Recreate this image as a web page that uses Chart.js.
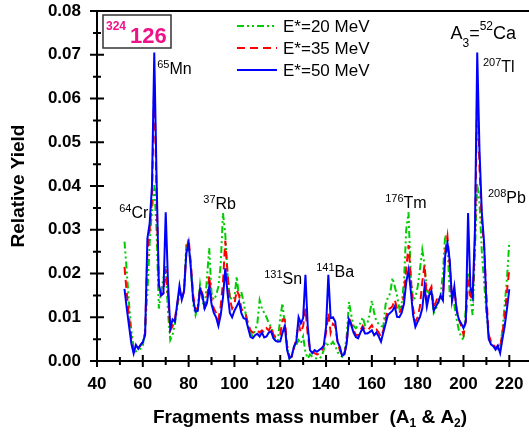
<!DOCTYPE html>
<html>
<head>
<meta charset="utf-8">
<script src="https://cdn.jsdelivr.net/npm/chart.js@4.4.1/dist/chart.umd.min.js"></script>
<style>
  html, body { margin: 0; padding: 0; background: #fff; overflow: hidden; }
</style>
</head>
<body>
<canvas id="chart" width="529" height="434"></canvas>
<script>
// Fragment mass numbers A = 52 ... 220
const masses = Array.from({ length: 169 }, (_, i) => 52 + i);

// Relative yield, E* = 50 MeV
const yield50 = [
  0.0165, 0.012, 0.008, 0.004, 0.0017, 0.0037, 0.0028, 0.0037, 0.0043, 0.006,
  0.028, 0.0315, 0.040, 0.0705, 0.042, 0.0175, 0.015, 0.0155, 0.034, 0.018,
  0.0075, 0.0095, 0.009, 0.013, 0.0172, 0.014, 0.016, 0.0246, 0.027, 0.021,
  0.014, 0.0113, 0.0115, 0.0165, 0.015, 0.012, 0.0132, 0.017, 0.013, 0.011,
  0.010, 0.008, 0.0105, 0.0145, 0.0212, 0.0155, 0.011, 0.010, 0.0115, 0.0125,
  0.0136, 0.011, 0.0098, 0.0096, 0.0075, 0.0055, 0.0052, 0.0059, 0.0062, 0.0056,
  0.0065, 0.0054, 0.0056, 0.0065, 0.0068, 0.0052, 0.0046, 0.0044, 0.0045, 0.0065,
  0.008, 0.0025, 0.0006, 0.0011, 0.0033, 0.0044, 0.010, 0.0086, 0.0098, 0.0197,
  0.008, 0.0025, 0.0018, 0.0025, 0.0021, 0.0025, 0.0029, 0.0035, 0.0078, 0.0197,
  0.0098, 0.010, 0.009, 0.0044, 0.0033, 0.0012, 0.0015, 0.004, 0.0095, 0.0082,
  0.0065, 0.0055, 0.0052, 0.0065, 0.0075, 0.0063, 0.0063, 0.0066, 0.007, 0.0059,
  0.0065, 0.0056, 0.0044, 0.0065, 0.0085, 0.0105, 0.011, 0.0115, 0.0125, 0.0101,
  0.010, 0.011, 0.013, 0.018, 0.0208, 0.016, 0.0105, 0.0078, 0.009, 0.0101,
  0.012, 0.017, 0.0124, 0.015, 0.016, 0.0115, 0.0125, 0.0135, 0.015, 0.0139,
  0.024, 0.027, 0.023, 0.0138, 0.017, 0.0115, 0.0095, 0.0086, 0.0075, 0.009,
  0.0338, 0.017, 0.0147, 0.030, 0.0705, 0.048, 0.034, 0.027, 0.013, 0.005,
  0.0038, 0.0034, 0.0026, 0.0035, 0.0018, 0.005, 0.008, 0.012, 0.0164
];

// Relative yield, E* = 35 MeV
const yield35 = [
  0.0215, 0.0155, 0.010, 0.005, 0.0025, 0.0035, 0.003, 0.0035, 0.0045, 0.006,
  0.025, 0.030, 0.037, 0.064, 0.038, 0.017, 0.015, 0.0155, 0.021, 0.015,
  0.007, 0.008, 0.0095, 0.013, 0.016, 0.014, 0.016, 0.025, 0.028, 0.022,
  0.015, 0.012, 0.012, 0.0166, 0.0155, 0.0125, 0.014, 0.0195, 0.014, 0.012,
  0.011, 0.0095, 0.0125, 0.018, 0.0275, 0.020, 0.014, 0.012, 0.013, 0.0162,
  0.015, 0.012, 0.011, 0.0105, 0.0085, 0.007, 0.0065, 0.0065, 0.007, 0.0065,
  0.007, 0.0065, 0.0075, 0.007, 0.008, 0.006, 0.0055, 0.0055, 0.006, 0.0095,
  0.0095, 0.0035, 0.001, 0.001, 0.003, 0.005, 0.0085, 0.0065, 0.008, 0.012,
  0.006, 0.0025, 0.002, 0.0018, 0.0015, 0.0016, 0.0022, 0.0035, 0.0065, 0.011,
  0.0065, 0.0085, 0.008, 0.0045, 0.0025, 0.0012, 0.0015, 0.0042, 0.010, 0.0085,
  0.007, 0.006, 0.0058, 0.007, 0.008, 0.007, 0.007, 0.0075, 0.0082, 0.007,
  0.0072, 0.0065, 0.0055, 0.007, 0.0095, 0.012, 0.012, 0.0125, 0.014, 0.012,
  0.011, 0.012, 0.015, 0.021, 0.0265, 0.019, 0.012, 0.009, 0.010, 0.0125,
  0.018, 0.022, 0.014, 0.016, 0.017, 0.0125, 0.0135, 0.015, 0.0145, 0.014,
  0.025, 0.0285, 0.022, 0.014, 0.016, 0.012, 0.0095, 0.008, 0.006, 0.009,
  0.018, 0.015, 0.014, 0.027, 0.0625, 0.044, 0.032, 0.026, 0.015, 0.006,
  0.0045, 0.0038, 0.003, 0.0035, 0.003, 0.0065, 0.010, 0.016, 0.021
];

// Relative yield, E* = 20 MeV
const yield20 = [
  0.0273, 0.0205, 0.013, 0.007, 0.003, 0.0022, 0.0025, 0.0028, 0.0035, 0.0075,
  0.0155, 0.027, 0.0345, 0.0402, 0.030, 0.012, 0.016, 0.019, 0.022, 0.011,
  0.0048, 0.006, 0.0085, 0.012, 0.0155, 0.015, 0.016, 0.0269, 0.026, 0.0219,
  0.013, 0.0105, 0.0125, 0.0175, 0.014, 0.0116, 0.019, 0.0258, 0.0155, 0.014,
  0.015, 0.017, 0.022, 0.0338, 0.029, 0.0195, 0.0147, 0.0139, 0.0145, 0.0193,
  0.0145, 0.0158, 0.0135, 0.0105, 0.008, 0.0065, 0.0056, 0.007, 0.0086, 0.0139,
  0.012, 0.011, 0.010, 0.0086, 0.0078, 0.006, 0.0044, 0.0048, 0.010, 0.0132,
  0.0078, 0.0033, 0.0006, 0.001, 0.0033, 0.0037, 0.0048, 0.004, 0.0056, 0.002,
  0.0006, 0.0015, 0.001, 0.0008, 0.0005, 0.0006, 0.001, 0.0025, 0.0044, 0.0035,
  0.0037, 0.0044, 0.0035, 0.002, 0.0014, 0.001, 0.002, 0.0056, 0.0135, 0.0105,
  0.008, 0.0075, 0.0082, 0.0086, 0.010, 0.0082, 0.0086, 0.0105, 0.0138, 0.011,
  0.009, 0.0085, 0.008, 0.0078, 0.013, 0.0145, 0.0155, 0.019, 0.017, 0.015,
  0.012, 0.013, 0.018, 0.030, 0.034, 0.019, 0.014, 0.0145, 0.017, 0.021,
  0.0254, 0.022, 0.016, 0.0155, 0.016, 0.011, 0.012, 0.0132, 0.015, 0.020,
  0.0288, 0.027, 0.015, 0.014, 0.0128, 0.0095, 0.007, 0.0055, 0.0048, 0.012,
  0.020, 0.0145, 0.0105, 0.025, 0.0405, 0.036, 0.025, 0.018, 0.011, 0.0056,
  0.0044, 0.0035, 0.0032, 0.0027, 0.0035, 0.007, 0.013, 0.019, 0.0273
];

// Axis ticks
const xTicks = [40, 60, 80, 100, 120, 140, 160, 180, 200, 220];
const xMinor = [50, 70, 90, 110, 130, 150, 170, 190, 210];
const yTicks = [0, 0.01, 0.02, 0.03, 0.04, 0.05, 0.06, 0.07, 0.08];
const yMinor = [0.005, 0.015, 0.025, 0.035, 0.045, 0.055, 0.065, 0.075];

// Peak labels: superscript mass, element, anchor in data units
const peakLabels = [
  { sup: "65", el: "Mn", x: 66.3, y: 0.0656 },
  { sup: "64", el: "Cr", x: 49.7, y: 0.0328 },
  { sup: "37", el: "Rb", x: 86.4, y: 0.0347 },
  { sup: "131", el: "Sn", x: 113, y: 0.0176 },
  { sup: "141", el: "Ba", x: 135.7, y: 0.0193 },
  { sup: "176", el: "Tm", x: 165.8, y: 0.035 },
  { sup: "208", el: "Pb", x: 210.7, y: 0.0361 },
  { sup: "207", el: "Tl", x: 208.5, y: 0.066 }
];

const FONT = 'Arial, "Liberation Sans", sans-serif';

function richText(ctx, x, y, parts) {
  ctx.textAlign = "left";
  ctx.textBaseline = "alphabetic";
  parts.forEach(([t, size, weight, dy, color]) => {
    ctx.font = `${weight} ${size}px ${FONT}`;
    ctx.fillStyle = color || "#000";
    ctx.fillText(t, x, y + dy);
    x += ctx.measureText(t).width;
  });
}

function richWidth(ctx, parts) {
  let w = 0;
  parts.forEach(([t, size, weight]) => {
    ctx.font = `${weight} ${size}px ${FONT}`;
    w += ctx.measureText(t).width;
  });
  return w;
}

const decorations = {
  id: "decorations",
  afterDatasetsDraw(chart) {
    const { ctx, chartArea: a, scales: { x, y } } = chart;
    ctx.save();

    // frame and axes
    ctx.strokeStyle = "#000";
    ctx.lineWidth = 2;
    ctx.beginPath();
    ctx.moveTo(a.left, a.top);
    ctx.lineTo(a.right + 2, a.top);
    ctx.moveTo(a.left, a.top - 1);
    ctx.lineTo(a.left, a.bottom);
    ctx.lineTo(a.right + 2, a.bottom);
    ctx.stroke();

    // ticks crossing the axes
    ctx.beginPath();
    xTicks.forEach(v => { const p = x.getPixelForValue(v); ctx.moveTo(p, a.bottom - 6); ctx.lineTo(p, a.bottom + 6); });
    xMinor.forEach(v => { const p = x.getPixelForValue(v); ctx.moveTo(p, a.bottom - 4); ctx.lineTo(p, a.bottom + 4); });
    yTicks.forEach(v => { const p = y.getPixelForValue(v); ctx.moveTo(a.left - 7, p); ctx.lineTo(a.left + 7, p); });
    yMinor.forEach(v => { const p = y.getPixelForValue(v); ctx.moveTo(a.left - 4, p); ctx.lineTo(a.left + 4, p); });
    ctx.stroke();

    // peak labels
    peakLabels.forEach(l => {
      richText(ctx, x.getPixelForValue(l.x), y.getPixelForValue(l.y), [
        [l.sup, 11, "normal", -6],
        [l.el, 16, "normal", 0]
      ]);
    });

    // nucleus box
    const bx = a.left + 6, by = a.top + 4;
    ctx.fillStyle = "#fff";
    ctx.fillRect(bx, by, 68, 33);
    ctx.strokeStyle = "#333";
    ctx.lineWidth = 1.5;
    ctx.strokeRect(bx, by, 68, 33);
    richText(ctx, bx + 3, by + 14.5, [["324", 12, "bold", 0, "#ee1289"]]);
    richText(ctx, bx + 27, by + 28, [["126", 22, "bold", 0, "#ee1289"]]);

    // A3 = 52Ca
    richText(ctx, 450.5, 39.3, [
      ["A", 18, "normal", 0],
      ["3", 12, "normal", 7.5],
      ["=", 18, "normal", 0],
      ["52", 12, "normal", -9],
      ["Ca", 18, "normal", 0]
    ]);

    // legend
    chart.data.datasets.forEach((ds, i) => {
      const cy = 26 + i * 22;
      ctx.strokeStyle = ds.borderColor;
      ctx.lineWidth = ds.borderWidth;
      ctx.setLineDash(ds.borderDash || []);
      ctx.beginPath();
      ctx.moveTo(237, cy);
      ctx.lineTo(277, cy);
      ctx.stroke();
      ctx.setLineDash([]);
      richText(ctx, 283, cy + 6.3, [[ds.label, 17, "normal", 0]]);
    });

    // x title with subscripts
    const title = [
      ["Fragments mass number  (A", 19, "bold", 0],
      ["1", 12, "bold", 4],
      [" & A", 19, "bold", 0],
      ["2", 12, "bold", 4],
      [")", 19, "bold", 0]
    ];
    const tw = richWidth(ctx, title);
    richText(ctx, 310 - tw / 2, 423.3, title);

    ctx.restore();
  }
};

const toPoints = arr => masses.map((m, i) => ({ x: m, y: arr[i] }));

new Chart(document.getElementById("chart"), {
  type: "line",
  data: {
    datasets: [
      {
        label: "E*=20 MeV",
        data: toPoints(yield20),
        borderColor: "#00cc00",
        borderWidth: 2,
        borderDash: [7, 3, 2, 3, 2, 3],
        order: 3
      },
      {
        label: "E*=35 MeV",
        data: toPoints(yield35),
        borderColor: "#ff0000",
        borderWidth: 2,
        borderDash: [8, 5],
        order: 2
      },
      {
        label: "E*=50 MeV",
        data: toPoints(yield50),
        borderColor: "#0000ff",
        borderWidth: 2,
        order: 1
      }
    ]
  },
  options: {
    responsive: false,
    animation: false,
    events: [],
    elements: { point: { radius: 0 }, line: { tension: 0 } },
    layout: { padding: { top: 11, right: 0, left: 0, bottom: 0 } },
    plugins: { legend: { display: false }, tooltip: { enabled: false } },
    scales: {
      x: {
        type: "linear",
        min: 40,
        max: 228.6,
        grid: { display: false, drawTicks: false },
        border: { display: false },
        ticks: { padding: 13, color: "#000", font: { family: FONT, size: 17, weight: "bold" } },
        afterBuildTicks: s => { s.ticks = xTicks.map(v => ({ value: v })); },
        afterFit: s => { s.height = 73; s.paddingLeft = 0; s.paddingRight = 0; }
      },
      y: {
        min: 0,
        max: 0.08,
        grid: { display: false, drawTicks: false },
        border: { display: false },
        ticks: {
          padding: 16,
          color: "#000",
          font: { family: FONT, size: 17, weight: "bold" },
          callback: v => v.toFixed(2)
        },
        afterBuildTicks: s => { s.ticks = yTicks.map(v => ({ value: v })); },
        afterFit: s => { s.width = 97; s.paddingTop = 0; s.paddingBottom = 0; },
        title: {
          display: true,
          text: "Relative Yield",
          color: "#000",
          font: { family: FONT, size: 19, weight: "bold" },
          padding: { top: 7, bottom: 0 }
        }
      }
    }
  },
  plugins: [decorations]
});
</script>
</body>
</html>
